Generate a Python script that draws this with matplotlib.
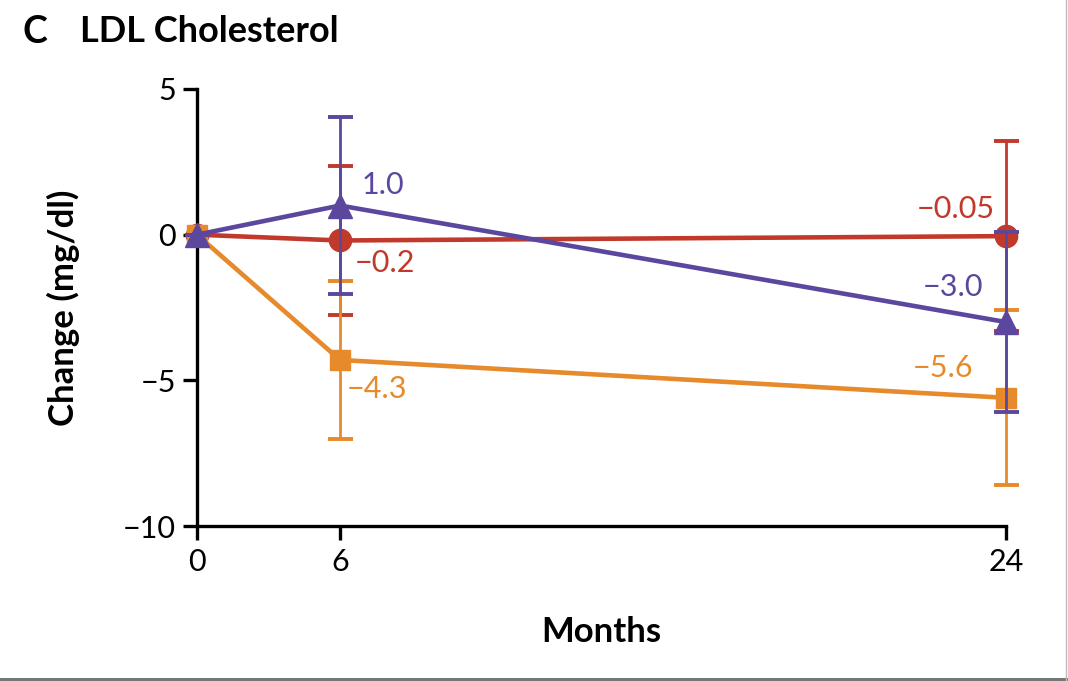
import numpy as np
import matplotlib
matplotlib.use("Agg")
import matplotlib.pyplot as plt
from matplotlib.lines import Line2D

# Data
months = [0, 6, 24]
month_ticks = [0, 6, 24]
y_ticks = [5, 0, -5, -10]

red_mean = [0.0, -0.2, -0.05]
red_err = [0.0, 2.55, 3.25]
red_labels = [None, "\u22120.2", "\u22120.05"]

orange_mean = [0.0, -4.3, -5.6]
orange_err = [0.0, 2.7, 3.0]
orange_labels = [None, "\u22124.3", "\u22125.6"]

purple_mean = [0.0, 1.0, -3.0]
purple_err = [0.0, 3.05, 3.1]
purple_labels = [None, "1.0", "\u22123.0"]

RED = "#C0392B"
ORANGE = "#E68A2B"
PURPLE = "#5B479E"

TICK_FONT = ["Lato", "DejaVu Sans"]
LABEL_FONT = ["Lato", "DejaVu Sans"]

# Non-uniform month axis: 0-6 is stretched less than 6-24
_pos_m = [0, 6, 24]
_pos_px = [0, 143, 809]


def fwd(x):
    return np.interp(x, _pos_m, _pos_px)


def inv(p):
    return np.interp(p, _pos_px, _pos_m)


fig = plt.figure(figsize=(10.68, 6.81), dpi=100)
ax = fig.add_axes([197 / 1068, 1 - 526 / 681, (1006 - 197) / 1068, (526 - 89) / 681])
ax.set_xscale("function", functions=(fwd, inv))
ax.set_xlim(0, 24)
ax.set_ylim(-10, 5)

series = [
    (red_mean, red_err, RED, "o", 16),
    (orange_mean, orange_err, ORANGE, "s", 15),
    (purple_mean, purple_err, PURPLE, "^", 17),
]
for z, (mean, err, color, marker, ms) in enumerate(series):
    ax.errorbar(months, mean, yerr=err, color=color, ecolor=color,
                elinewidth=2.0, capsize=9, capthick=2.8, lw=3.3,
                marker=marker, ms=ms, mec=color, mfc=color,
                clip_on=False, zorder=3 + z)

# Value labels (offsets in pixels from each point)
label_sets = [
    (red_mean, red_labels, RED, [None, (15, -23, "left"), (-11, 27, "right")]),
    (orange_mean, orange_labels, ORANGE, [None, (7, -29, "left"), (-33, 30, "right")]),
    (purple_mean, purple_labels, PURPLE, [None, (22, 21, "left"), (-23, 35, "right")]),
]
for mean, labels, color, offs in label_sets:
    for m, v, lab, off in zip(months, mean, labels, offs):
        if lab is None:
            continue
        dx, dy, ha = off
        ax.annotate(lab, (m, v), xytext=(dx, dy), textcoords="offset pixels",
                    ha=ha, va="center", color=color, fontsize=22,
                    family=LABEL_FONT, zorder=10)

# Axes styling
for s in ["top", "right"]:
    ax.spines[s].set_visible(False)
for s in ["left", "bottom"]:
    ax.spines[s].set_linewidth(2.4)
    ax.spines[s].set_color("black")
ax.set_xticks(month_ticks)
ax.set_xticklabels([str(t) for t in month_ticks])
ax.set_yticks(y_ticks)
ax.set_yticklabels([str(t).replace("-", "\u2212") for t in y_ticks])
ax.tick_params(axis="both", direction="out", length=10, width=2.4,
               labelsize=22)
ax.tick_params(axis="x", pad=6)
ax.tick_params(axis="y", pad=5)
for lab in ax.get_xticklabels() + ax.get_yticklabels():
    lab.set_family(TICK_FONT)
ax.patch.set_visible(False)

ax.set_ylabel("Change (mg/dl)", fontsize=25, fontweight="bold",
              family=LABEL_FONT)
ax.yaxis.set_label_coords(-117 / 809, 0.5)
ax.set_xlabel("Months", fontsize=25, fontweight="bold", family=LABEL_FONT)
ax.xaxis.set_label_coords(0.5, -(616 - 526) / 437)

# Panel heading
fig.text(23 / 1068, 1 - 32 / 681, "C", fontsize=27, fontweight="bold",
         family=LABEL_FONT, va="center", ha="left")
fig.text(80 / 1068, 1 - 32 / 681, "LDL Cholesterol", fontsize=26,
         fontweight="bold", family=LABEL_FONT, va="center", ha="left")

# Frame rules at the bottom and right edges
fig.add_artist(Line2D([0, 1], [1 - 678.5 / 681] * 2, color="#777777", lw=2.2,
                      transform=fig.transFigure))
fig.add_artist(Line2D([1066 / 1068] * 2, [0, 1], color="#bbbbbb", lw=1.0,
                      transform=fig.transFigure))

fig.savefig("out.png", dpi=100)
